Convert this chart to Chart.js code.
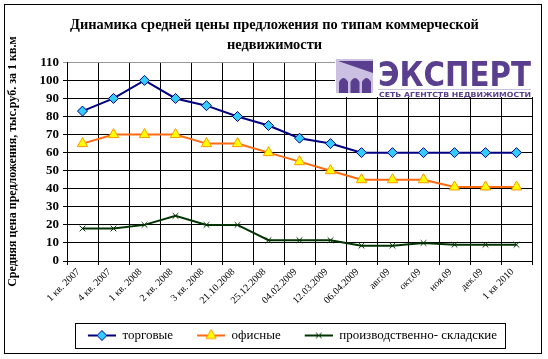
<!DOCTYPE html>
<html>
<head>
<meta charset="utf-8">
<script src="https://cdn.jsdelivr.net/npm/chart.js@4"></script>
<style>
  html, body { margin: 0; padding: 0; background: #fff; }
  canvas { display: block; }
</style>
</head>
<body>
<canvas id="myChart" width="548" height="359"></canvas>
<script>
const categories = ["1 кв. 2007", "4 кв. 2007", "1 кв. 2008", "2 кв. 2008", "3 кв. 2008",
  "21.10.2008", "25.12.2008", "04.02.2009", "12.03.2009", "06.04.2009",
  "авг.09", "окт.09", "ноя.09", "дек.09", "1 кв 2010"];
const torgovye = [83, 90, 100, 90, 86, 80, 75, 68, 65, 60, 60, 60, 60, 60, 60];
const ofisnye = [65, 70, 70, 70, 65, 65, 60, 55, 50, 45, 45, 45, 41, 41, 41];
const skladskie = [18, 18, 20, 25, 20, 20, 11.5, 11.5, 11.5, 8.5, 8.5, 10, 9, 9, 9];
const seriesNames = ["торговые", "офисные", "производственно- складские"];
const titleLines = ["Динамика средней цены предложения по типам коммерческой", "недвижимости"];
const yTitle = "Средняя цена предложения, тыс.руб. за 1 кв.м";

const serif = "'Liberation Serif', 'Times New Roman', serif";
Chart.defaults.font.family = serif;
const chartDOM = document.getElementById("myChart");

// маленькая картинка для легенды: линия + маркер
function legendIcon(color, pointStyle, fill, border, r) {
  const c = document.createElement("canvas");
  c.width = 44; c.height = 14;
  const ctx = c.getContext("2d");
  ctx.strokeStyle = color;
  ctx.lineWidth = 2;
  ctx.beginPath();
  ctx.moveTo(16, 7); ctx.lineTo(44, 7);
  ctx.stroke();
  ctx.fillStyle = fill;
  ctx.strokeStyle = border;
  ctx.lineWidth = 1;
  Chart.helpers.drawPoint(ctx, { pointStyle: pointStyle, radius: r, borderWidth: 1 }, 30, 7);
  return c;
}

const frame = {
  id: "frame",
  afterLayout(chart) {
    // сдвиг заголовка и легенды вправо, как в оригинале
    chart.titleBlock.left += 6;
    chart.titleBlock.right += 6;
    chart.legend.left += 16;
    chart.legend.right += 16;
  },
  beforeDraw(chart) {
    const ctx = chart.ctx;
    ctx.save();
    ctx.fillStyle = "#fff";
    ctx.fillRect(0, 0, chart.width, chart.height);
    ctx.restore();
  },
  afterDraw(chart) {
    const ctx = chart.ctx;
    ctx.save();
    ctx.strokeStyle = "#000";
    ctx.lineWidth = 1;
    ctx.strokeRect(4.5, 4.5, 537, 349);

    // рамка вокруг легенды
    const boxes = chart.legend.legendHitBoxes;
    if (boxes && boxes.length) {
      const first = boxes[0], last = boxes[boxes.length - 1];
      const l = Math.round(first.left + 3) + 0.5;
      const r = Math.round(last.left + last.width + 8) + 0.5;
      const t = Math.round(first.top - 6) + 0.5;
      ctx.strokeRect(l, t, r - l, 25);
    }

    // логотип
    const purple = "#5b3f8f";
    ctx.fillStyle = "#fff";
    ctx.fillRect(335, 56, 199, 41);
    ctx.fillStyle = "#cbbfe2";
    ctx.fillRect(336, 59, 37, 34);
    ctx.fillStyle = purple;
    ctx.beginPath();
    ctx.moveTo(338, 61); ctx.lineTo(373, 61); ctx.lineTo(373, 73); ctx.closePath();
    ctx.fill();
    for (let i = 0; i < 3; i++) {
      const x0 = 339 + i * 11.5;
      ctx.beginPath();
      ctx.moveTo(x0, 93);
      ctx.lineTo(x0, 82);
      ctx.quadraticCurveTo(x0 + 4.5, 74, x0 + 9, 82);
      ctx.lineTo(x0 + 9, 93);
      ctx.closePath();
      ctx.fill();
    }
    ctx.font = "bold 34px 'DejaVu Sans'";
    ctx.textBaseline = "alphabetic";
    const w = ctx.measureText("ЭКСПЕРТ").width;
    ctx.save();
    ctx.translate(378, 86);
    ctx.scale(153 / w, 1);
    ctx.fillText("ЭКСПЕРТ", 0, 0);
    ctx.restore();
    ctx.fillStyle = "#cbbfe2";
    ctx.fillRect(378, 89, 153, 1);
    ctx.fillStyle = purple;
    ctx.font = "bold 7px 'DejaVu Sans'";
    const w2 = ctx.measureText("СЕТЬ АГЕНТСТВ НЕДВИЖИМОСТИ").width;
    ctx.save();
    ctx.translate(379, 97);
    ctx.scale(152 / w2, 1);
    ctx.fillText("СЕТЬ АГЕНТСТВ НЕДВИЖИМОСТИ", 0, 0);
    ctx.restore();
    ctx.restore();
  }
};

const icons = [
  legendIcon("#000080", "rectRot", "#33ccff", "#000080", 5),
  legendIcon("#ff6a10", "triangle", "#ffff00", "#ff9900", 6),
  legendIcon("#003300", "crossRot", "#003300", "#003300", 4)
];

const config = {
  type: "line",
  data: {
    labels: categories,
    datasets: [
      {
        label: seriesNames[0],
        data: torgovye,
        borderColor: "#000080",
        borderWidth: 2,
        pointStyle: "rectRot",
        pointRadius: 5,
        pointBackgroundColor: "#33ccff",
        pointBorderColor: "#000080",
        pointBorderWidth: 1,
        tension: 0
      },
      {
        label: seriesNames[1],
        data: ofisnye,
        borderColor: "#ff6a10",
        borderWidth: 2,
        pointStyle: "triangle",
        pointRadius: 6,
        pointBackgroundColor: "#ffff00",
        pointBorderColor: "#ff9900",
        pointBorderWidth: 1,
        tension: 0
      },
      {
        label: seriesNames[2],
        data: skladskie,
        borderColor: "#003300",
        borderWidth: 2,
        pointStyle: "crossRot",
        pointRadius: 4,
        pointBackgroundColor: "#003300",
        pointBorderColor: "#003300",
        pointBorderWidth: 1,
        tension: 0
      }
    ]
  },
  options: {
    responsive: false,
    animation: false,
    devicePixelRatio: 1,
    layout: { padding: { left: 5, right: 16, top: 0, bottom: 7 } },
    plugins: {
      tooltip: { enabled: false },
      title: {
        display: true,
        text: titleLines,
        color: "#000",
        font: { family: serif, size: 14.4, weight: "bold", lineHeight: 1.4 },
        padding: { top: 15, bottom: 7 }
      },
      legend: {
        position: "bottom",
        labels: {
          usePointStyle: true,
          pointStyleWidth: 44,
          padding: 8,
          color: "#000",
          font: { family: serif, size: 13 },
          generateLabels(chart) {
            const items = Chart.defaults.plugins.legend.labels.generateLabels(chart);
            items.forEach((it, i) => { it.pointStyle = icons[i]; });
            return items;
          }
        }
      }
    },
    scales: {
      x: {
        offset: true,
        grid: { color: "#000", lineWidth: 1, offset: true, tickLength: 4 },
        border: { color: "#000" },
        ticks: {
          color: "#000",
          autoSkip: false,
          maxRotation: 45,
          minRotation: 45,
          padding: 1,
          labelOffset: -4,
          font: { family: serif, size: 10 }
        },
        afterFit(scale) { scale.height = 60; }
      },
      y: {
        min: 0,
        max: 110,
        ticks: {
          stepSize: 10,
          autoSkip: false,
          color: "#000",
          padding: 4,
          font: { family: serif, size: 13, weight: "bold" }
        },
        grid: {
          color: (c) => (c.tick && c.tick.value === 110 ? "#999" : "#000"),
          lineWidth: 1,
          tickLength: 4
        },
        border: { color: "#000" },
        title: {
          display: true,
          text: yTitle,
          color: "#000",
          padding: { top: 1, bottom: 0 },
          font: { family: serif, size: 12, weight: "bold" }
        },
        afterFit(scale) { scale.width = 62; }
      }
    }
  },
  plugins: [frame]
};

let myChart = new Chart(chartDOM, config);
</script>
</body>
</html>
